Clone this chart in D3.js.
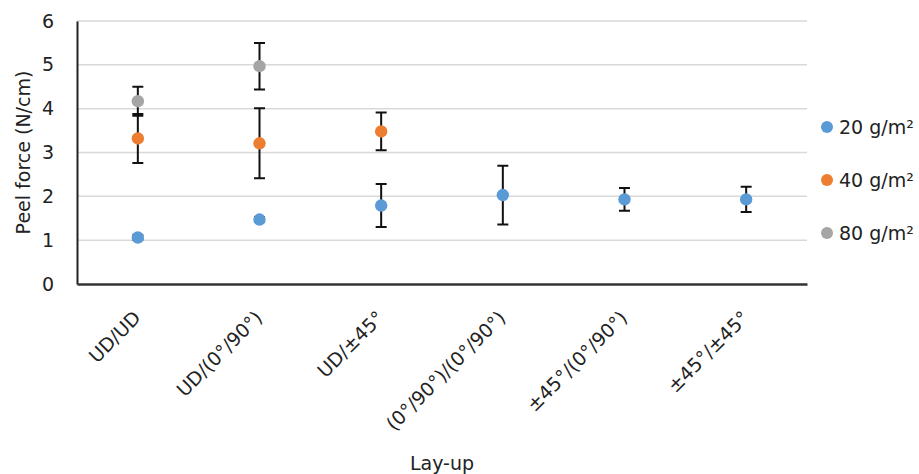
<!DOCTYPE html>
<html>
<head>
<meta charset="utf-8">
<script src="https://cdn.jsdelivr.net/npm/d3@7"></script>
<style>
  body { margin: 0; background: #fff; }
  text { font-family: "DejaVu Sans", "Open Sans", sans-serif; fill: #222; }
</style>
</head>
<body>
<div id="chart"></div>
<script>
// Lay-up categories on the x axis
const layups = ["UD/UD", "UD/(0°/90°)", "UD/±45°", "(0°/90°)/(0°/90°)", "±45°/(0°/90°)", "±45°/±45°"];

// Mean peel force per series (null = not tested)
const g20 = [1.06, 1.47, 1.79, 2.03, 1.93, 1.93];
const g40 = [3.32, 3.21, 3.48, null, null, null];
const g80 = [4.17, 4.97, null, null, null, null];

// Standard deviations (error bars)
const g20err = [0.05, 0.05, 0.49, 0.67, 0.26, 0.29];
const g40err = [0.56, 0.80, 0.43, null, null, null];
const g80err = [0.33, 0.53, null, null, null, null];

const seriesNames = ["20 g/m²", "40 g/m²", "80 g/m²"];
const colors = ["#5B9BD5", "#ED7D31", "#A5A5A5"];
const yTicks = [0, 1, 2, 3, 4, 5, 6];

const series = [
  { name: seriesNames[0], values: g20, errs: g20err, color: colors[0] },
  { name: seriesNames[1], values: g40, errs: g40err, color: colors[1] },
  { name: seriesNames[2], values: g80, errs: g80err, color: colors[2] }
];

const width = 919, height = 474;
const margin = { top: 21, right: 112, bottom: 190, left: 77 };
const fontSize = "19px";

const svg = d3.select("#chart").append("svg")
  .attr("width", width)
  .attr("height", height);

const x = d3.scaleBand()
  .domain(layups)
  .range([margin.left, width - margin.right]);

const y = d3.scaleLinear()
  .domain([0, 6])
  .range([height - margin.bottom, margin.top]);

// gridlines
svg.append("g")
  .selectAll("line")
  .data(yTicks.slice(1))
  .enter().append("line")
  .attr("x1", margin.left)
  .attr("x2", width - margin.right)
  .attr("y1", d => y(d))
  .attr("y2", d => y(d))
  .attr("stroke", "#d9d9d9")
  .attr("stroke-width", 1.5);

// y axis
const yAxis = svg.append("g")
  .attr("transform", "translate(" + margin.left + ",0)")
  .call(d3.axisLeft(y).tickValues(yTicks).tickFormat(d3.format("d")).tickSize(0).tickPadding(23));
yAxis.select(".domain").attr("stroke", "#222").attr("stroke-width", 2);
yAxis.selectAll("text").style("font-size", fontSize).attr("fill", "#222");

// x axis
const xAxis = svg.append("g")
  .attr("transform", "translate(0," + y(0) + ")")
  .call(d3.axisBottom(x).tickSize(0).tickFormat(""));
xAxis.select(".domain").attr("stroke", "#333").attr("stroke-width", 2.5);

// rotated category labels
svg.append("g")
  .selectAll("text")
  .data(layups)
  .enter().append("text")
  .attr("transform", d => "translate(" + (x(d) + x.bandwidth() / 2 + 4) + "," + (y(0) + 35) + ") rotate(-45)")
  .attr("text-anchor", "end")
  .style("font-size", fontSize)
  .text(d => d);

// y title
svg.append("text")
  .attr("transform", "translate(23," + ((y(0) + y(6)) / 2) + ") rotate(-90)")
  .attr("text-anchor", "middle")
  .attr("dy", "0.35em")
  .style("font-size", fontSize)
  .text("Peel force (N/cm)");

// x title
svg.append("text")
  .attr("x", (margin.left + width - margin.right) / 2)
  .attr("y", 470)
  .attr("text-anchor", "middle")
  .style("font-size", fontSize)
  .text("Lay-up");

// error bars and points
series.forEach(s => {
  const pts = layups.map((c, i) => ({ c: c, v: s.values[i], e: s.errs[i] }))
    .filter(p => p.v !== null);
  const g = svg.append("g");
  const cap = 5.5;

  g.selectAll(".eb")
    .data(pts)
    .enter().append("path")
    .attr("class", "eb")
    .attr("fill", "none")
    .attr("stroke", "#111")
    .attr("stroke-width", 2)
    .attr("d", p => {
      const cx = x(p.c) + x.bandwidth() / 2;
      const y1 = y(p.v + p.e), y2 = y(p.v - p.e);
      return "M" + (cx - cap) + "," + y1 + "H" + (cx + cap)
        + "M" + cx + "," + y1 + "V" + y2
        + "M" + (cx - cap) + "," + y2 + "H" + (cx + cap);
    });

  g.selectAll("circle")
    .data(pts)
    .enter().append("circle")
    .attr("cx", p => x(p.c) + x.bandwidth() / 2)
    .attr("cy", p => y(p.v))
    .attr("r", 6.2)
    .attr("fill", s.color);
});

// legend
const legend = svg.append("g")
  .selectAll("g")
  .data(series)
  .enter().append("g")
  .attr("transform", (d, i) => "translate(827," + (127 + i * 53) + ")");

legend.append("circle")
  .attr("r", 6)
  .attr("fill", d => d.color);

legend.append("text")
  .attr("x", 12)
  .attr("dy", "0.35em")
  .style("font-size", fontSize)
  .text(d => d.name);
</script>
</body>
</html>
